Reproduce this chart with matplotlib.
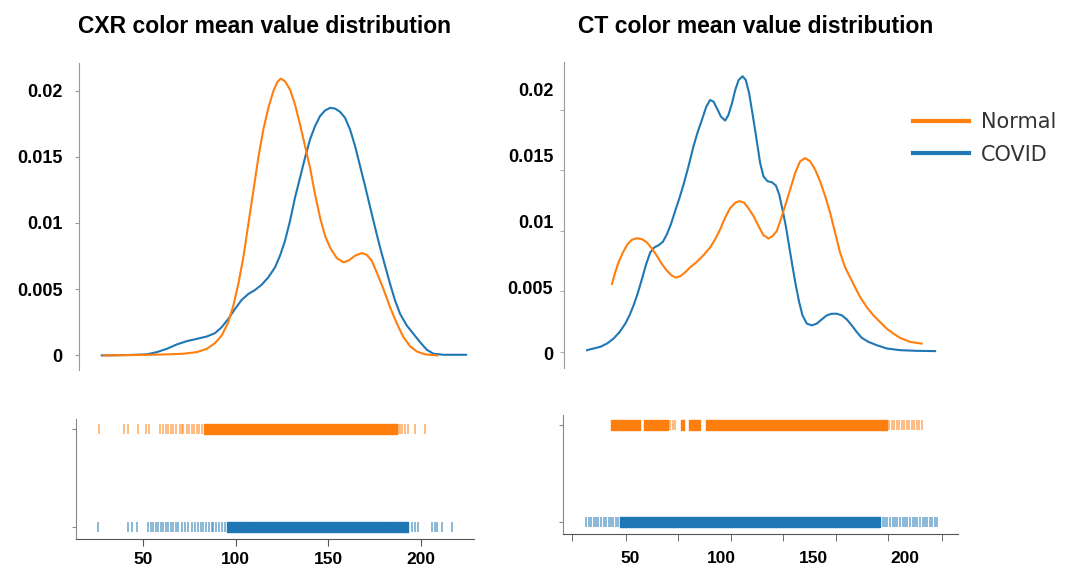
import matplotlib
matplotlib.use('Agg')
import matplotlib.pyplot as plt
from matplotlib.lines import Line2D

c_normal = '#ff7f0e'
c_covid = '#1f77b4'

# KDE curves (x = color mean value, y = density)
cxr_normal_x = [28.6, 44.8, 53.8, 62.8, 71.8, 79.0, 84.4, 88.8, 92.4, 96.0, 98.7, 101.4, 104.1,
                106.8, 109.5, 112.2, 114.9, 117.6, 120.3, 122.5, 124.3, 126.6, 129.3, 132.0,
                134.7, 137.4, 140.1, 142.8, 145.5, 148.2, 150.9, 154.5, 158.1, 160.8, 164.4,
                168.0, 170.7, 173.4, 176.1, 179.7, 183.3, 186.9, 190.5, 194.1, 197.7, 202.2, 208.8]
cxr_normal_y = [0, 0.00003, 0.00005, 0.00008, 0.00013, 0.00025, 0.0005, 0.00093, 0.0015, 0.00251,
                0.00376, 0.0054, 0.0074, 0.00991, 0.01242, 0.01493, 0.01706, 0.01869, 0.01995,
                0.02065, 0.0209, 0.0207, 0.02007, 0.01894, 0.01744, 0.01581, 0.01418, 0.01217,
                0.01041, 0.00903, 0.00815, 0.00735, 0.00703, 0.00715, 0.00753, 0.00773, 0.0076,
                0.00715, 0.00627, 0.00502, 0.00364, 0.00243, 0.00138, 0.0007, 0.0003, 0.00008, 0]
cxr_covid_x = [27.7, 41.2, 52.0, 57.4, 62.8, 68.2, 73.6, 79.0, 84.4, 88.8, 92.4, 96.0, 99.6, 103.2,
               106.8, 110.4, 114.0, 117.6, 121.2, 123.9, 126.6, 129.3, 132.0, 134.7, 137.4, 140.1,
               142.8, 145.5, 148.2, 150.9, 153.6, 156.3, 159.0, 161.7, 164.4, 167.1, 169.8, 172.5,
               175.2, 177.9, 180.6, 183.3, 186.0, 188.7, 192.3, 195.9, 199.5, 203.1, 206.7, 212.1,
               224.3]
cxr_covid_y = [0, 0.00003, 0.00008, 0.00025, 0.0005, 0.00083, 0.00108, 0.00125, 0.00143, 0.00168,
               0.00213, 0.00276, 0.00351, 0.00419, 0.00464, 0.00494, 0.00534, 0.0059, 0.00665,
               0.00753, 0.00866, 0.01016, 0.01192, 0.01342, 0.01493, 0.01631, 0.01731, 0.01807,
               0.01849, 0.01869, 0.01864, 0.01839, 0.01794, 0.01706, 0.01581, 0.0143, 0.0128,
               0.01122, 0.00966, 0.00815, 0.00677, 0.0054, 0.00414, 0.00314, 0.00226, 0.00163,
               0.001, 0.00043, 0.00013, 0.00005, 0.00005]

ct_normal_x = [40.0, 41.8, 43.6, 46.0, 48.5, 50.9, 53.6, 56.4, 59.1, 61.8, 64.5, 67.3, 70.0, 72.7,
               74.9, 77.3, 80.0, 82.7, 86.4, 90.0, 93.6, 96.4, 99.1, 101.8, 104.5, 107.3, 109.6,
               112.2, 114.5, 117.3, 120.0, 122.7, 125.5, 127.8, 130.0, 132.2, 134.5, 137.3, 140.0,
               142.7, 145.5, 148.2, 150.9, 153.6, 156.4, 159.1, 161.8, 164.5, 167.3, 170.0, 172.7,
               175.5, 179.1, 182.7, 186.4, 190.0, 193.6, 197.3, 202.7, 209.1]
ct_normal_y = [0.00527, 0.00615, 0.0069, 0.00765, 0.00828, 0.00861, 0.00873, 0.00866, 0.00841,
               0.00795, 0.0074, 0.00677, 0.00627, 0.0059, 0.00575, 0.00585, 0.00615, 0.00652,
               0.00695, 0.00745, 0.00803, 0.00866, 0.00941, 0.01029, 0.0110, 0.01142, 0.01154,
               0.01142, 0.0110, 0.01041, 0.00966, 0.00896, 0.00871, 0.00891, 0.00928, 0.01016,
               0.01117, 0.01242, 0.01367, 0.01455, 0.0148, 0.01455, 0.01393, 0.01305, 0.01192,
               0.01066, 0.00916, 0.00765, 0.00652, 0.00577, 0.00502, 0.00427, 0.00351, 0.00289,
               0.00238, 0.00188, 0.00151, 0.00118, 0.00088, 0.00075]
ct_covid_x = [26.4, 30.0, 33.6, 37.3, 40.9, 44.2, 47.3, 49.6, 51.8, 54.0, 56.4, 58.7, 60.9, 63.1,
              65.5, 67.8, 70.0, 72.2, 74.5, 76.9, 79.1, 81.8, 84.5, 86.9, 89.1, 91.5, 93.6, 95.5,
              97.3, 99.5, 101.8, 103.6, 105.5, 107.3, 109.1, 111.3, 113.1, 114.9, 116.7, 118.7,
              120.9, 122.7, 124.9, 127.3, 129.5, 131.3, 133.1, 134.9, 136.7, 138.5, 140.4, 142.2,
              144.0, 146.4, 149.1, 151.8, 154.5, 157.3, 160.0, 162.7, 165.5, 168.2, 170.9, 173.6,
              176.4, 180.0, 184.5, 190.0, 197.3, 206.4, 216.4]
ct_covid_y = [0.00025, 0.00038, 0.0005, 0.00075, 0.00113, 0.00163, 0.00226, 0.00289, 0.00364,
              0.00452, 0.00565, 0.00677, 0.00765, 0.00803, 0.0082, 0.00846, 0.00903, 0.00979,
              0.01079, 0.01179, 0.0128, 0.01418, 0.01568, 0.01681, 0.01769, 0.01869, 0.0192,
              0.01907, 0.01857, 0.01794, 0.01764, 0.01807, 0.01894, 0.01995, 0.0207, 0.021,
              0.0207, 0.0197, 0.01819, 0.01643, 0.01443, 0.01342, 0.01305, 0.01297, 0.01272,
              0.01204, 0.01091, 0.00966, 0.00815, 0.00665, 0.00514, 0.00389, 0.00289, 0.00226,
              0.00213, 0.00226, 0.00258, 0.00289, 0.00301, 0.00301, 0.00289, 0.00258, 0.00213,
              0.00163, 0.00118, 0.00088, 0.00063, 0.00038, 0.00025, 0.0002, 0.00018]

# rug: single ticks plus the runs where the ticks merge into a solid band
cxr_normal_rug = [26.4, 39.7, 42.1, 47.5, 51.4, 53.4, 59.2, 61, 62.2, 63.7, 64.9, 66.4, 67.6, 70,
                  70.9, 71.8, 73.6, 75, 76.3, 77.5, 79, 80.4, 81.7, 187.8, 188.7, 189.9, 191.4,
                  193.2, 196.8, 202.2]
cxr_normal_runs = [(82.9, 186.9)]
cxr_covid_rug = [25.5, 42.1, 43.9, 46.6, 52.5, 54.1, 55.6, 56.8, 58.3, 59.5, 61, 62.2, 63.7, 64.9,
                 66.4, 67.6, 69.1, 70.9, 72.7, 74.5, 76.3, 78.1, 79.9, 81, 82.5, 84, 85.5, 87, 88,
                 89.5, 91, 92.5, 94, 195.3, 196.8, 198.6, 205.8, 207.6, 208.5, 211.2, 216.6]
cxr_covid_runs = [(95.5, 109.2), (109.8, 181.5), (182.2, 193.2)]

ct_normal_rug = [71.8, 73.3, 74.2, 191.5, 192.7, 194, 195.5, 196.9, 198.2, 199.5, 200.9, 202.4,
                 203.6, 204.9, 206.4, 207.8, 209.1]
ct_normal_runs = [(39.6, 55.5), (57.3, 70.9), (77.6, 79.5), (82, 88.2), (91.3, 190)]
ct_covid_rug = [26, 27.3, 28.5, 30, 31.3, 32.7, 34, 35.5, 37, 38.3, 39.5, 40.8, 42, 43.3, 187.8,
                189.1, 190.4, 191.8, 193.3, 194.5, 195.8, 197.3, 198.7, 200, 201.3, 202.7, 204.2,
                205.5, 206.7, 208.2, 209.6, 210.9, 212.2, 213.6, 214.9, 216.4, 217.6]
ct_covid_runs = [(44.5, 150.6), (151.3, 186.4)]

y_ticks = [0, 0.005, 0.01, 0.015, 0.02]
y_labels = ['0', '0.005', '0.01', '0.015', '0.02']
x_ticks = [50, 100, 150, 200]

plt.rcParams['font.family'] = ['Liberation Sans', 'DejaVu Sans']
W, H = 1075, 568
fig = plt.figure(figsize=(W / 100, H / 100), dpi=100)


def box(x0, y0, x1, y1):
    return [x0 / W, 1 - y1 / H, (x1 - x0) / W, (y1 - y0) / H]


def kde_panel(ax, normal, covid, xlim):
    ax.plot(*covid, color=c_covid, lw=1.5, solid_joinstyle='round')
    ax.plot(*normal, color=c_normal, lw=1.5, solid_joinstyle='round')
    ax.set_xlim(*xlim)
    ax.set_ylim(-0.0011, 0.0221)
    for s in ['top', 'right', 'bottom']:
        ax.spines[s].set_visible(False)
    ax.spines['left'].set_color('#999999')
    ax.set_xticks([])
    ax.set_yticks(y_ticks)
    ax.set_yticklabels(y_labels, fontsize=13, fontweight='bold')


def rug_panel(ax, normal_rug, normal_runs, covid_rug, covid_runs, xlim):
    ax.eventplot([covid_rug, normal_rug], lineoffsets=[0, 1], linelengths=0.1,
                 colors=[c_covid, c_normal], linewidths=1.2, alpha=0.6)
    ax.broken_barh([(a, b - a) for a, b in normal_runs], (0.95, 0.1), color=c_normal)
    ax.broken_barh([(a, b - a) for a, b in covid_runs], (-0.05, 0.1), color=c_covid)
    ax.set_xlim(*xlim)
    ax.set_ylim(-0.12, 1.1)
    for s in ['top', 'right']:
        ax.spines[s].set_visible(False)
    ax.spines['left'].set_color('#888888')
    ax.spines['bottom'].set_color('#555555')
    ax.set_yticks([0, 1])
    ax.set_yticklabels(['', ''])
    ax.tick_params(axis='y', length=3, color='#888888')
    ax.set_xticks(x_ticks)
    ax.set_xticklabels([str(t) for t in x_ticks], fontsize=12.5, fontweight='bold')


# CXR
ax1 = fig.add_axes(box(79, 62.7, 474, 370))
kde_panel(ax1, (cxr_normal_x, cxr_normal_y), (cxr_covid_x, cxr_covid_y), (15.4, 228.6))
ax1.tick_params(axis='y', length=3, pad=9, color='#999999')

ax2 = fig.add_axes(box(76, 419, 474, 539))
rug_panel(ax2, cxr_normal_rug, cxr_normal_runs, cxr_covid_rug, cxr_covid_runs, (13.8, 228.6))
ax2.tick_params(axis='x', length=5, pad=4, color='#555555')

# CT
ax3 = fig.add_axes(box(564.3, 61.7, 958, 368))
kde_panel(ax3, (ct_normal_x, ct_normal_y), (ct_covid_x, ct_covid_y), (14.0, 228.9))
ax3.tick_params(axis='y', which='major', length=0, pad=8)
ax3.set_yticks([0.000125, 0.00472, 0.00928, 0.01388, 0.01844], minor=True)
ax3.tick_params(axis='y', which='minor', length=3, color='#999999')

ax4 = fig.add_axes(box(563.3, 415, 958, 534))
rug_panel(ax4, ct_normal_rug, ct_normal_runs, ct_covid_rug, ct_covid_runs, (13.5, 228.9))
ax4.tick_params(axis='x', which='major', length=0, pad=12)
ax4.set_xticks([18.4, 47.8, 76.2, 105.1, 133.5, 162.4, 190.7, 220.2], minor=True)
ax4.tick_params(axis='x', which='minor', length=5, color='#555555')

fig.text(78 / W, 1 - 33 / H, 'CXR color mean value distribution', fontsize=16.5,
         fontweight='bold', ha='left', va='baseline')
fig.text(578 / W, 1 - 33 / H, 'CT color mean value distribution', fontsize=16.5,
         fontweight='bold', ha='left', va='baseline')

handles = [Line2D([], [], color=c_normal, lw=3), Line2D([], [], color=c_covid, lw=3)]
fig.legend(handles, ['Normal', 'COVID'], loc='center left',
           bbox_to_anchor=(913 / W, 1 - 138.5 / H), frameon=False, borderpad=0,
           borderaxespad=0, handlelength=2.7, handletextpad=0.55, labelspacing=0.6,
           prop={'family': 'DejaVu Sans', 'size': 15}, labelcolor='#333333')

fig.savefig('out.png', dpi=100)
